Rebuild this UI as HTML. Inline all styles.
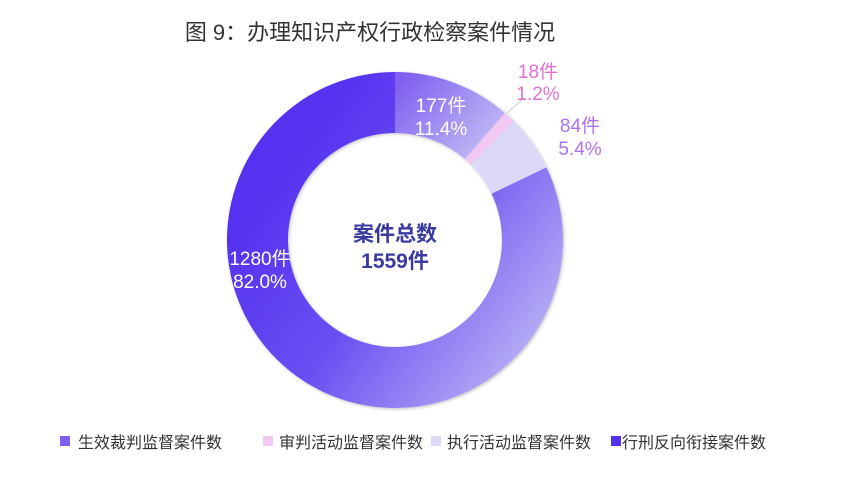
<!DOCTYPE html>
<html><head><meta charset="utf-8"><style>
body{margin:0;background:#fff}
text{font-family:"Liberation Sans","Noto Sans CJK SC",sans-serif}
</style></head><body>
<svg width="850" height="472" viewBox="0 0 850 472" xmlns="http://www.w3.org/2000/svg">
<defs>
<linearGradient id="g1" gradientUnits="userSpaceOnUse" x1="400" y1="80" x2="490" y2="160">
<stop offset="0" stop-color="#7f60f0"/><stop offset="1" stop-color="#c6c0f4"/></linearGradient>
<linearGradient id="g4" gradientUnits="userSpaceOnUse" x1="260" y1="180" x2="540" y2="380">
<stop offset="0" stop-color="#5430f0"/><stop offset="0.45" stop-color="#6a50f2"/><stop offset="1" stop-color="#c0baf4"/></linearGradient>
<filter id="sh" x="-10%" y="-10%" width="120%" height="120%"><feDropShadow dx="1" dy="1" stdDeviation="1.5" flood-color="#000" flood-opacity="0.25"/></filter>
</defs>
<text x="370" y="40" font-size="22" fill="#333" text-anchor="middle">图 9：办理知识产权行政检察案件情况</text>
<g filter="url(#sh)">
<path d="M395,72 A168,168 0 0 1 504.9,113 L465,159.1 A107,107 0 0 0 395,133 Z" fill="url(#g1)"/>
<path d="M504.9,113 A168,168 0 0 1 513.9,121.3 L470.7,164.4 A107,107 0 0 0 465,159.1 Z" fill="#f0c8f2"/>
<path d="M513.9,121.3 A168,168 0 0 1 546.5,167.4 L491.5,193.8 A107,107 0 0 0 470.7,164.4 Z" fill="#dcd8f8"/>
<path d="M546.5,167.4 A168,168 0 1 1 395,72 L395,133 A107,107 0 1 0 491.5,193.8 Z" fill="url(#g4)"/>
</g>
<line x1="506" y1="114" x2="524" y2="98" stroke="#ccc" stroke-width="1"/>
<g font-size="19" text-anchor="middle">
<text x="441" y="112" fill="#fff">177件</text><text x="441" y="135" fill="#fff">11.4%</text>
<text x="538" y="78" fill="#e070d0">18件</text><text x="538" y="100" fill="#e070d0">1.2%</text>
<text x="580" y="132" fill="#b070f0">84件</text><text x="580" y="155" fill="#b070f0">5.4%</text>
<text x="260" y="265" fill="#fff">1280件</text><text x="260" y="288" fill="#fff">82.0%</text>
</g>
<g font-size="21" font-weight="bold" fill="#3a3aa0" text-anchor="middle">
<text x="395" y="241">案件总数</text><text x="395" y="268">1559件</text>
</g>
<g font-size="16" fill="#333">
<rect x="60" y="436" width="10" height="10" fill="#7f60f0"/><text x="78" y="448">生效裁判监督案件数</text>
<rect x="263" y="436" width="10" height="10" fill="#f0c8f2"/><text x="279" y="448">审判活动监督案件数</text>
<rect x="431" y="436" width="10" height="10" fill="#dcd8f8"/><text x="447" y="448">执行活动监督案件数</text>
<rect x="611" y="436" width="10" height="10" fill="#5430f0"/><text x="622" y="448">行刑反向衔接案件数</text>
</g>
</svg>
</body></html>
